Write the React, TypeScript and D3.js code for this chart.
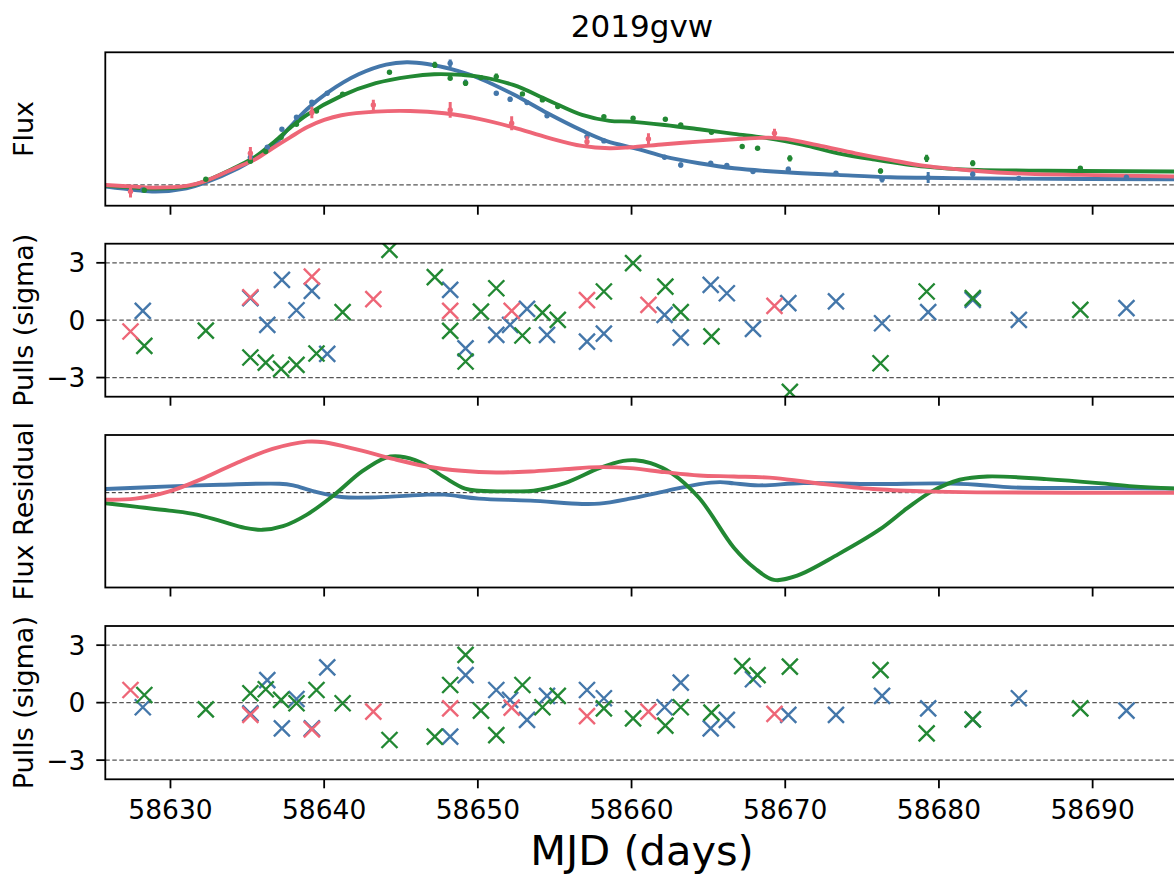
import React from 'react';
import * as d3 from 'd3';

// ---------- data ----------
const title = '2019gvw';
const xTicks = [58630, 58640, 58650, 58660, 58670, 58680, 58690];
const pullTicks = [-3, 0, 3];

const BLUE = '#4477AA';
const GREEN = '#228833';
const RED = '#EE6677';

// observations (MJD, flux, flux error, pulls of fit A, pulls of fit B)
const blueT = [58628.2, 58635.2, 58636.3, 58637.25, 58638.2, 58639.2, 58640.2, 58648.2, 58649.2, 58651.2, 58652.1, 58653.2, 58654.5, 58657.1, 58658.2, 58662.15, 58663.2, 58665.15, 58666.2, 58667.9, 58670.2, 58673.3, 58676.3, 58679.3, 58682.2, 58685.2, 58692.2];
const blueF = [-0.041, 0.226, 0.307, 0.454, 0.552, 0.674, 0.747, 0.992, 0.834, 0.747, 0.698, 0.671, 0.563, 0.394, 0.359, 0.226, 0.163, 0.177, 0.158, 0.109, 0.128, 0.095, 0.046, 0.060, 0.087, 0.054, 0.063];
const blueE = [0.012, 0.012, 0.012, 0.015, 0.012, 0.015, 0.012, 0.03, 0.025, 0.015, 0.02, 0.015, 0.015, 0.012, 0.012, 0.012, 0.02, 0.015, 0.015, 0.01, 0.02, 0.015, 0.025, 0.045, 0.02, 0.01, 0.01];
const bluePullA = [0.49, 1.15, -0.24, 2.11, 0.52, 1.53, -1.76, 1.59, -1.47, -0.77, -0.24, 0.59, -0.77, -1.12, -0.70, 0.28, -0.91, 1.85, 1.41, -0.45, 0.89, 0.98, -0.16, 0.42, 1.06, 0.02, 0.63];
const bluePullB = [-0.24, -0.56, 1.18, -1.34, 0.19, -1.34, 1.84, -1.77, 1.44, 0.66, 0.14, -0.90, 0.35, 0.66, 0.23, -0.24, 1.04, -1.34, -0.90, 1.22, -0.64, -0.64, 0.35, -0.30, -0.87, 0.23, -0.42];

const greenT = [58628.3, 58632.3, 58635.2, 58636.2, 58637.2, 58638.2, 58639.5, 58641.2, 58644.25, 58647.2, 58648.2, 58649.2, 58650.2, 58651.2, 58652.9, 58654.2, 58655.2, 58658.2, 58660.1, 58662.2, 58663.2, 58665.2, 58667.2, 58668.2, 58670.3, 58676.2, 58679.2, 58682.2, 58689.2];
const greenF = [-0.043, 0.046, 0.193, 0.272, 0.389, 0.495, 0.603, 0.739, 0.918, 0.978, 0.870, 0.829, 0.875, 0.883, 0.742, 0.693, 0.639, 0.557, 0.543, 0.535, 0.489, 0.429, 0.313, 0.299, 0.217, 0.114, 0.217, 0.177, 0.136];
const greenE = [0.01, 0.01, 0.01, 0.012, 0.01, 0.01, 0.012, 0.012, 0.01, 0.025, 0.015, 0.02, 0.012, 0.025, 0.01, 0.01, 0.01, 0.012, 0.015, 0.015, 0.012, 0.01, 0.008, 0.008, 0.025, 0.02, 0.03, 0.025, 0.012];
const greenPullA = [-1.34, -0.54, -1.95, -2.22, -2.55, -2.34, -1.74, 0.42, 3.68, 2.25, -0.56, -2.16, 0.45, 1.67, -0.80, 0.40, 0.02, 1.50, 2.98, 1.76, 0.42, -0.85, -5.6, -5.2, -3.75, -2.25, 1.50, 1.15, 0.54];
const greenPullB = [0.40, -0.35, 0.49, 0.70, 0.14, -0.03, 0.66, -0.03, -1.95, -1.77, 0.92, 2.49, -0.42, -1.69, 0.92, -0.24, 0.35, -0.30, -0.82, -1.20, -0.24, -0.52, 1.91, 1.44, 1.88, 1.70, -1.60, -0.87, -0.30];

const redT = [58627.4, 58635.2, 58639.2, 58643.2, 58648.2, 58652.2, 58657.1, 58661.1, 58669.3];
const redF = [-0.054, 0.258, 0.590, 0.652, 0.611, 0.503, 0.353, 0.375, 0.421];
const redE = [0.048, 0.052, 0.047, 0.042, 0.064, 0.057, 0.043, 0.046, 0.038];
const redPullA = [-0.59, 1.20, 2.28, 1.10, 0.49, 0.49, 1.05, 0.80, 0.75];
const redPullB = [0.66, -0.64, -1.39, -0.47, -0.30, -0.26, -0.70, -0.47, -0.59];

// model light curves
const blueModelT = [58625.79, 58627.7, 58629.04, 58631.05, 58632.17, 58634.41, 58635.53, 58636.64, 58637.76, 58638.88, 58640.22, 58642.24, 58644.03, 58645.37, 58646.71, 58648.28, 58650.07, 58652.3, 58654.54, 58656.78, 58658.34, 58660.5, 58662.15, 58664.4, 58666.66, 58670.05, 58673.44, 58676.83, 58680.22, 58684.73, 58695.6];
const blueModelF = [-0.014, -0.041, -0.054, -0.027, 0.014, 0.136, 0.217, 0.313, 0.47, 0.617, 0.753, 0.902, 0.981, 1.0, 0.986, 0.943, 0.87, 0.739, 0.584, 0.443, 0.36, 0.29, 0.231, 0.177, 0.136, 0.103, 0.082, 0.063, 0.057, 0.052, 0.046];

const greenModelT = [58625.79, 58627.7, 58629.04, 58631.05, 58632.17, 58634.41, 58635.53, 58636.64, 58637.76, 58638.88, 58641.12, 58643.36, 58645.59, 58647.16, 58648.95, 58650.07, 58652.3, 58654.54, 58656.78, 58658.57, 58659.89, 58662.15, 58664.4, 58666.66, 58668.92, 58671.18, 58673.44, 58675.7, 58679.09, 58682.48, 58685.86, 58689.25, 58695.6];
const greenModelF = [-0.005, -0.022, -0.03, -0.014, 0.027, 0.155, 0.231, 0.34, 0.462, 0.571, 0.726, 0.829, 0.883, 0.902, 0.897, 0.883, 0.815, 0.693, 0.571, 0.522, 0.516, 0.489, 0.454, 0.416, 0.38, 0.326, 0.258, 0.209, 0.149, 0.122, 0.117, 0.114, 0.109];

const redModelT = [58625.79, 58627.7, 58629.04, 58631.05, 58632.17, 58634.41, 58635.53, 58636.64, 58637.76, 58638.88, 58640.0, 58641.12, 58643.36, 58645.59, 58647.83, 58650.07, 58652.3, 58654.54, 58656.78, 58658.57, 58659.89, 58662.15, 58664.4, 58666.66, 58668.92, 58670.05, 58672.31, 58674.57, 58676.83, 58679.09, 58682.48, 58685.86, 58689.25, 58695.6];
const redModelF = [0.0, -0.014, -0.022, -0.008, 0.027, 0.149, 0.209, 0.299, 0.386, 0.47, 0.53, 0.568, 0.598, 0.603, 0.584, 0.538, 0.47, 0.386, 0.318, 0.299, 0.307, 0.332, 0.353, 0.372, 0.386, 0.375, 0.318, 0.258, 0.204, 0.155, 0.114, 0.09, 0.082, 0.068];

// flux residual curves
const blueResT = [58625.79, 58629.93, 58633.29, 58637.09, 58637.99, 58639.33, 58641.12, 58643.36, 58646.71, 58647.83, 58650.07, 58653.42, 58656.78, 58657.9, 58659.89, 58662.15, 58664.4, 58665.76, 58666.66, 58668.24, 58671.18, 58675.7, 58680.22, 58682.48, 58684.73, 58688.12, 58691.51, 58695.6];
const blueResV = [0.11, 0.19, 0.24, 0.27, 0.22, 0.04, -0.13, -0.14, -0.06, -0.06, -0.18, -0.24, -0.34, -0.33, -0.18, 0.04, 0.26, 0.32, 0.28, 0.22, 0.29, 0.26, 0.28, 0.24, 0.16, 0.14, 0.14, 0.12];

const redResT = [58625.79, 58627.7, 58629.93, 58632.17, 58634.41, 58636.64, 58638.88, 58640.0, 58642.24, 58644.47, 58646.71, 58648.95, 58651.19, 58653.42, 58655.66, 58657.9, 58659.89, 58662.15, 58664.4, 58666.66, 58669.37, 58672.31, 58675.7, 58679.09, 58682.48, 58695.6];
const redResV = [-0.21, -0.18, 0.04, 0.44, 0.92, 1.32, 1.54, 1.52, 1.29, 1.02, 0.79, 0.66, 0.61, 0.64, 0.71, 0.77, 0.74, 0.62, 0.52, 0.49, 0.44, 0.27, 0.11, 0.04, 0.01, 0.0];

const greenResT = [58625.79, 58627.7, 58629.93, 58631.72, 58633.29, 58634.85, 58635.97, 58637.32, 58638.88, 58640.67, 58642.46, 58644.03, 58644.92, 58646.26, 58647.83, 58649.17, 58650.07, 58652.3, 58653.64, 58655.66, 58657.9, 58659.46, 58660.25, 58661.24, 58662.6, 58664.4, 58666.66, 58668.02, 58669.26, 58670.73, 58673.44, 58676.15, 58677.96, 58679.54, 58681.35, 58683.15, 58686.99, 58690.38, 58692.64, 58695.6];
const greenResV = [-0.32, -0.42, -0.54, -0.66, -0.86, -1.06, -1.12, -1.01, -0.66, -0.06, 0.64, 1.06, 1.09, 0.92, 0.46, 0.12, 0.06, 0.04, 0.06, 0.29, 0.74, 0.96, 0.98, 0.89, 0.59, -0.16, -1.66, -2.28, -2.63, -2.51, -1.86, -1.11, -0.46, 0.04, 0.39, 0.49, 0.41, 0.29, 0.19, 0.12];

// ---------- layout ----------
const W = 1174;
const H = 874;
const L = 105.3;
const R = 1178.7;
const panels = [
  { top: 52.3, bottom: 205.7 },
  { top: 243.7, bottom: 396.7 },
  { top: 435, bottom: 587.5 },
  { top: 626, bottom: 779.3 },
];
const FONT = 'DejaVu Sans';

type Band = {
  color: string;
  t: number[];
  f: number[];
  e: number[];
  pa: number[];
  pb: number[];
  mt: number[];
  mf: number[];
  rt: number[];
  rv: number[];
};

const bands: Band[] = [
  { color: BLUE, t: blueT, f: blueF, e: blueE, pa: bluePullA, pb: bluePullB, mt: blueModelT, mf: blueModelF, rt: blueResT, rv: blueResV },
  { color: GREEN, t: greenT, f: greenF, e: greenE, pa: greenPullA, pb: greenPullB, mt: greenModelT, mf: greenModelF, rt: greenResT, rv: greenResV },
  { color: RED, t: redT, f: redF, e: redE, pa: redPullA, pb: redPullB, mt: redModelT, mf: redModelF, rt: redResT, rv: redResV },
];

export default function App() {
  const x = d3.scaleLinear().domain([58625.76, 58695.6]).range([L, R]);
  const yFlux = d3.scaleLinear().domain([-0.169, 1.081]).range([panels[0].bottom, panels[0].top]);
  const yPullA = d3.scaleLinear().domain([-4, 4]).range([panels[1].bottom, panels[1].top]);
  const yRes = d3.scaleLinear().domain([-2.86, 1.74]).range([panels[2].bottom, panels[2].top]);
  const yPullB = d3.scaleLinear().domain([-4, 4]).range([panels[3].bottom, panels[3].top]);

  const lineFlux = d3
    .line<[number, number]>()
    .x((d) => x(d[0]))
    .y((d) => yFlux(d[1]))
    .curve(d3.curveCatmullRom.alpha(0.5));
  const lineRes = d3
    .line<[number, number]>()
    .x((d) => x(d[0]))
    .y((d) => yRes(d[1]))
    .curve(d3.curveCatmullRom.alpha(0.5));

  const xMarker = (cx: number, cy: number, s: number) =>
    `M${cx - s},${cy - s}L${cx + s},${cy + s}M${cx - s},${cy + s}L${cx + s},${cy - s}`;

  const frame = (i: number, withYTicks: boolean, yScale?: d3.ScaleLinear<number, number>, labelX = false) => {
    const p = panels[i];
    return (
      <g key={'frame' + i}>
        <rect x={L} y={p.top} width={R - L} height={p.bottom - p.top} fill="none" stroke="#000" strokeWidth={1.8} />
        {xTicks.map((t) => (
          <line key={t} x1={x(t)} x2={x(t)} y1={p.bottom} y2={p.bottom + 9} stroke="#000" strokeWidth={1.8} />
        ))}
        {labelX &&
          xTicks.map((t) => (
            <text key={'l' + t} x={x(t)} y={819} textAnchor="middle" fontSize={26.5} fontFamily={FONT} fill="#000">
              {t}
            </text>
          ))}
        {withYTicks && yScale &&
          pullTicks.map((v) => (
            <g key={'y' + v}>
              <line x1={L - 9} x2={L} y1={yScale(v)} y2={yScale(v)} stroke="#000" strokeWidth={1.8} />
              <text x={L - 20} y={yScale(v) + 9.6} textAnchor="end" fontSize={26.5} fontFamily={FONT} fill="#000">
                {v < 0 ? '\u2212' + Math.abs(v) : String(v)}
              </text>
            </g>
          ))}
      </g>
    );
  };

  const ylabel = (i: number, text: string) => {
    const p = panels[i];
    const cy = (p.top + p.bottom) / 2;
    return (
      <text
        key={'yl' + i}
        transform={`translate(33,${cy}) rotate(-90)`}
        textAnchor="middle"
        fontSize={27}
        fontFamily={FONT}
        fill="#000"
      >
        {text}
      </text>
    );
  };

  const pullPanel = (i: number, yS: d3.ScaleLinear<number, number>, key: 'pa' | 'pb') => (
    <g clipPath={`url(#clip${i})`}>
      {pullTicks.map((v) => (
        <line key={v} x1={L} x2={R} y1={yS(v)} y2={yS(v)} stroke="#555" strokeWidth={1.3} strokeDasharray="4.5,2.5" />
      ))}
      {bands.map((b, bi) => (
        <g key={bi}>
          {b.t.map((t, k) => (
            <path key={k} d={xMarker(x(t), yS(b[key][k]), 8)} stroke={b.color} strokeWidth={2.4} fill="none" />
          ))}
        </g>
      ))}
    </g>
  );

  return (
    <svg
      width={W}
      height={H}
      viewBox={`0 0 ${W} ${H}`}
      style={{ position: 'absolute', left: 0, top: 0, background: '#fff' }}
    >
      <defs>
        {panels.map((p, i) => (
          <clipPath id={'clip' + i} key={i}>
            <rect x={L} y={p.top} width={R - L} height={p.bottom - p.top} />
          </clipPath>
        ))}
      </defs>
      <rect x={0} y={0} width={W} height={H} fill="#fff" />

      <text x={(L + R) / 2} y={36.7} textAnchor="middle" fontSize={31} fontFamily={FONT} fill="#000">
        {title}
      </text>

      {/* Panel 1: flux */}
      <g clipPath="url(#clip0)">
        <line x1={L} x2={R} y1={yFlux(0)} y2={yFlux(0)} stroke="#555" strokeWidth={1.3} strokeDasharray="4.5,2.5" />
        {bands.map((b, bi) => (
          <path
            key={'m' + bi}
            d={lineFlux(b.mt.map((t, k) => [t, b.mf[k]] as [number, number])) || ''}
            stroke={b.color}
            strokeWidth={3.9}
            fill="none"
          />
        ))}
        {bands.map((b, bi) => (
          <g key={'d' + bi}>
            {b.t.map((t, k) => (
              <g key={k}>
                <line
                  x1={x(t)}
                  x2={x(t)}
                  y1={yFlux(b.f[k] - b.e[k])}
                  y2={yFlux(b.f[k] + b.e[k])}
                  stroke={b.color}
                  strokeWidth={3}
                />
                <circle cx={x(t)} cy={yFlux(b.f[k])} r={2.7} fill={b.color} />
              </g>
            ))}
          </g>
        ))}
      </g>
      {frame(0, false)}
      {ylabel(0, 'Flux')}

      {/* Panel 2: pulls A */}
      {pullPanel(1, yPullA, 'pa')}
      {frame(1, true, yPullA)}
      {ylabel(1, 'Pulls (sigma)')}

      {/* Panel 3: flux residual */}
      <g clipPath="url(#clip2)">
        <line x1={L} x2={R} y1={yRes(0)} y2={yRes(0)} stroke="#222" strokeWidth={1} strokeDasharray="4,2.5" />
        {bands.map((b, bi) => (
          <path
            key={'r' + bi}
            d={lineRes(b.rt.map((t, k) => [t, b.rv[k]] as [number, number])) || ''}
            stroke={b.color}
            strokeWidth={3.9}
            fill="none"
          />
        ))}
      </g>
      {frame(2, false)}
      {ylabel(2, 'Flux Residual')}

      {/* Panel 4: pulls B */}
      {pullPanel(3, yPullB, 'pb')}
      {frame(3, true, yPullB, true)}
      {ylabel(3, 'Pulls (sigma)')}

      <text x={(L + R) / 2} y={865} textAnchor="middle" fontSize={41.5} fontFamily={FONT} fill="#000">
        MJD (days)
      </text>
    </svg>
  );
}
